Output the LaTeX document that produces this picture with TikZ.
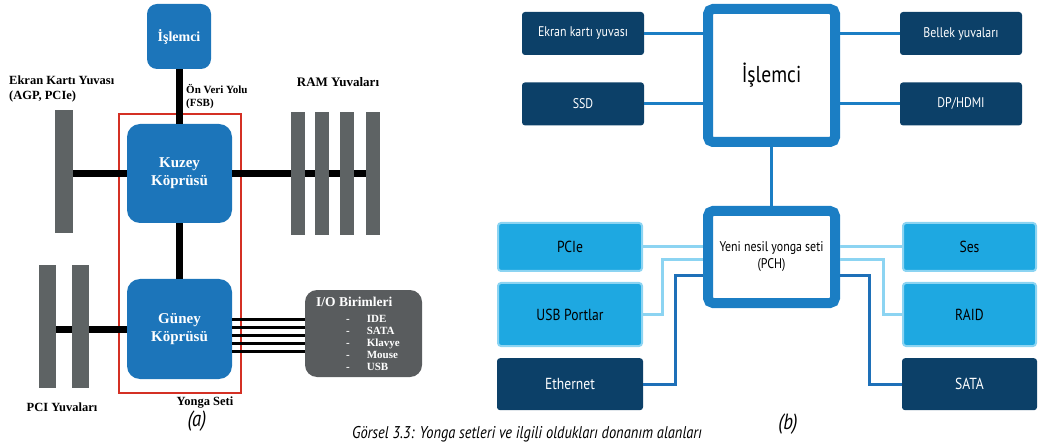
\documentclass[tikz,border=0pt]{standalone}
\usepackage{fontspec}
\setmainfont{Liberation Serif}
\newfontfamily\bsans[FakeStretch=0.85]{PT Sans}
\usetikzlibrary{positioning}

\definecolor{chipblue}{RGB}{28,117,186}
\definecolor{slotgray}{RGB}{94,99,100}
\definecolor{iogray}{RGB}{89,92,94}
\definecolor{setred}{RGB}{212,48,36}
\definecolor{hubblue}{RGB}{27,126,196}
\definecolor{navy}{RGB}{12,64,104}
\definecolor{skyblue}{RGB}{30,168,225}
\definecolor{skyedge}{RGB}{140,212,242}
\definecolor{deeplink}{RGB}{30,112,184}

\begin{document}
\begin{tikzpicture}[
  x=1pt, y=-1pt,
  chip/.style={fill=chipblue, rounded corners=13pt, text=white, align=center, inner sep=0pt,
    font=\bfseries\fontsize{15}{18}\selectfont},
  slot/.style={fill=slotgray, minimum height=123pt, inner sep=0pt},
  bus/.style={line width=7pt},
  thinbus/.style={line width=3pt},
  tag/.style={font=\bfseries\fontsize{12.5}{15}\selectfont, align=left, inner sep=0pt},
  iotext/.style={text=white, align=left, inner sep=0pt},
  hub/.style={draw=hubblue, line width=10pt, rounded corners=5pt, fill=white,
    minimum width=127pt, inner sep=0pt, align=center},
  navybox/.style={fill=navy, rounded corners=3pt, text=white, minimum width=122pt,
    minimum height=43pt, font=\bsans\fontsize{14}{16}\selectfont},
  skybox/.style={fill=skyblue, draw=skyedge, line width=2pt, rounded corners=3pt,
    font=\bsans\fontsize{16}{18}\selectfont},
  link/.style={draw=hubblue, line width=3pt},
  softlink/.style={draw=skyedge, line width=3pt},
  hardlink/.style={draw=deeplink, line width=3pt},
  sub/.style={font=\bsans\itshape\fontsize{22}{24}\selectfont},
]
\useasboundingbox (0,0) rectangle (1040,443);

% (a) kuzey/guney kopru yapisi
\node[draw=setred, line width=1.4pt, minimum width=122pt, minimum height=279pt] (chipset) at (180,253.5) {};
\node[chip, minimum width=64pt, minimum height=65pt, rounded corners=10pt,
  font=\bfseries\fontsize{14}{16}\selectfont] (cpuA) at (179,36.5) {İşlemci};
\node[chip, minimum width=105pt, minimum height=99pt] (kuzey) at (179.5,173.5) {Kuzey\\Köprüsü};
\node[chip, minimum width=105pt, minimum height=100pt] (guney) at (179.5,329) {Güney\\Köprüsü};

\node[slot, minimum width=18pt] (agp) at (64,171.5) {};
\foreach \i/\x in {1/298,2/322,3/347,4/373}
  \node[slot, minimum width=14pt] (ram\i) at (\x,173.5) {};
\node[slot, minimum width=17pt] (pci1) at (47.5,326.5) {};
\node[slot, minimum width=17pt] (pci2) at (80.5,326.5) {};

\node[fill=iogray, rounded corners=12pt, minimum width=117pt, minimum height=87pt] (io) at (363.5,333.5) {};
\node[iotext, anchor=west, font=\bfseries\fontsize{13.5}{15}\selectfont] (iotitle) at (316,302) {I/O Birimleri};
\node[iotext, anchor=north west, font=\bfseries\fontsize{11}{11.8}\selectfont] (iolist) at (346,315.5)
  {-\hspace{17pt}IDE\\-\hspace{17pt}SATA\\-\hspace{17pt}Klavye\\-\hspace{17pt}Mouse\\-\hspace{17pt}USB};

\draw[bus] (cpuA.south) -- (cpuA.south |- kuzey.north);
\draw[bus] (kuzey.south) -- (kuzey.south |- guney.north);
\draw[bus] (kuzey.west) -- (kuzey.west -| agp.east);
\draw[bus] (kuzey.east) -- (kuzey.east -| ram1.west);
\foreach \a/\b in {1/2,2/3,3/4}
  \draw[bus] (ram\a.east |- kuzey.east) -- (ram\b.west |- kuzey.east);
\draw[bus] (guney.west) -- (guney.west -| pci2.east);
\draw[bus] (pci2.west |- guney.west) -- (pci1.east |- guney.west);
\foreach \dy in {-10,-2,6,14,22}
  \draw[thinbus] (guney.east) ++(0,\dy) coordinate (tap) -- (tap -| io.west);

\node[tag, anchor=north west] (agplabel) at (9,76) {Ekran Kartı Yuvası\\(AGP, PCIe)};
\node[tag, anchor=north west, font=\bfseries\fontsize{11}{13}\selectfont] (fsblabel) at (186,84) {Ön Veri Yolu\\(FSB)};
\node[tag, font=\bfseries\fontsize{13}{15}\selectfont] (ramlabel) at (338,82) {RAM Yuvaları};
\node[tag] (pcilabel) at (62,407) {PCI Yuvaları};
\node[tag] (setlabel) at (205,403) {Yonga Seti};
\node[sub] (suba) at (197,421) {(a)};

% (b) PCH yapisi
\node[hub, minimum height=133pt, font=\bsans\fontsize{23}{26}\selectfont] (cpuB) at (771.5,75.5) {İşlemci};
\node[hub, minimum height=92pt, font=\bsans\fontsize{14}{17}\selectfont] (pch) at (771.5,257) {Yeni nesil yonga seti\\(PCH)};

\node[navybox] (ekran) at (583,33.5) {Ekran kartı yuvası};
\node[navybox, below=27pt of ekran] (ssd) {SSD};
\node[navybox] (bellek) at (961,33.5) {Bellek yuvaları};
\node[navybox, below=27pt of bellek] (dphdmi) {DP/HDMI};

\node[skybox, minimum width=144pt, minimum height=48pt] (pcie) at (570,247) {PCIe};
\node[skybox, minimum width=144pt, minimum height=63pt, below=10pt of pcie] (usb) {USB Portlar};
\node[navybox, minimum width=146pt, minimum height=52pt, font=\bsans\fontsize{16}{18}\selectfont,
  below=11pt of usb] (eth) {Ethernet};
\node[skybox, minimum width=133pt, minimum height=48pt] (ses) at (969.5,247) {Ses};
\node[skybox, minimum width=133pt, minimum height=63pt, below=10pt of ses] (raid) {RAID};
\node[navybox, minimum width=135pt, minimum height=52pt, font=\bsans\fontsize{16}{18}\selectfont,
  below=11pt of raid] (sata) {SATA};

\draw[link] (ekran.east) -- (ekran.east -| cpuB.west);
\draw[link] (ssd.east) -- (ssd.east -| cpuB.west);
\draw[link] (bellek.west) -- (bellek.west -| cpuB.east);
\draw[link] (dphdmi.west) -- (dphdmi.west -| cpuB.east);
\draw[link, line width=2.5pt] (cpuB.south) -- (pch.north);

\draw[softlink] (pcie.east) -- (pcie.east -| pch.west);
\draw[softlink] (usb.east) -- ++(19,0) |- ([yshift=-3pt]pch.west);
\draw[hardlink] (eth.east) -- ++(32,0) |- ([yshift=-19pt]pch.west);
\draw[softlink] (ses.west) -- (ses.west -| pch.east);
\draw[softlink] (raid.west) -- ++(-19,0) |- ([yshift=-3pt]pch.east);
\draw[hardlink] (sata.west) -- ++(-32,0) |- ([yshift=-19pt]pch.east);

\node[sub] (subb) at (788,424) {(b)};
\node[anchor=base, font=\bsans\itshape\fontsize{17}{19}\selectfont] (caption) at (527,438)
  {Görsel 3.3: Yonga setleri ve ilgili oldukları donanım alanları};
\end{tikzpicture}
\end{document}
